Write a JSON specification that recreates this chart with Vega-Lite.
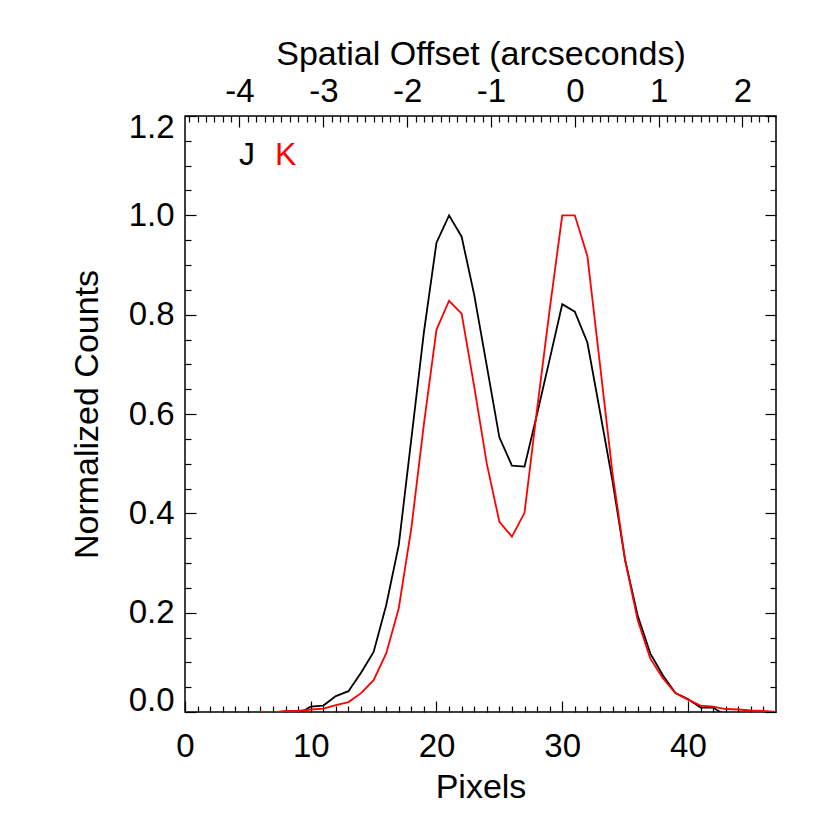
{
  "$schema": "https://vega.github.io/schema/vega-lite/v6.json",
  "width": 591,
  "height": 596,
  "autosize": {"type": "none"},
  "padding": {"left": 185, "top": 116, "right": 54, "bottom": 118},
  "background": "white",
  "config": {
    "view": {"stroke": "black", "strokeWidth": 1.5},
    "axis": {
      "domain": false,
      "grid": false,
      "tickColor": "black",
      "tickWidth": 1.2,
      "labelFont": "Liberation Sans",
      "labelFontSize": 33,
      "labelColor": "black",
      "titleFont": "Liberation Sans",
      "titleFontSize": 34,
      "titleFontWeight": "normal",
      "titleColor": "black"
    }
  },
  "datasets": {
    "profiles": [
      {"pixel": 9, "band": "J", "value": -0.004},
      {"pixel": 10, "band": "J", "value": 0.011},
      {"pixel": 11, "band": "J", "value": 0.013},
      {"pixel": 12, "band": "J", "value": 0.032},
      {"pixel": 13, "band": "J", "value": 0.042},
      {"pixel": 14, "band": "J", "value": 0.079},
      {"pixel": 15, "band": "J", "value": 0.121},
      {"pixel": 16, "band": "J", "value": 0.215},
      {"pixel": 17, "band": "J", "value": 0.336},
      {"pixel": 18, "band": "J", "value": 0.55},
      {"pixel": 19, "band": "J", "value": 0.765},
      {"pixel": 20, "band": "J", "value": 0.945},
      {"pixel": 21, "band": "J", "value": 1.0},
      {"pixel": 22, "band": "J", "value": 0.957},
      {"pixel": 23, "band": "J", "value": 0.84},
      {"pixel": 24, "band": "J", "value": 0.697},
      {"pixel": 25, "band": "J", "value": 0.553},
      {"pixel": 26, "band": "J", "value": 0.496},
      {"pixel": 27, "band": "J", "value": 0.494},
      {"pixel": 28, "band": "J", "value": 0.6},
      {"pixel": 29, "band": "J", "value": 0.71},
      {"pixel": 30, "band": "J", "value": 0.821},
      {"pixel": 31, "band": "J", "value": 0.806},
      {"pixel": 32, "band": "J", "value": 0.744},
      {"pixel": 33, "band": "J", "value": 0.605},
      {"pixel": 34, "band": "J", "value": 0.465},
      {"pixel": 35, "band": "J", "value": 0.306},
      {"pixel": 36, "band": "J", "value": 0.194},
      {"pixel": 37, "band": "J", "value": 0.118},
      {"pixel": 38, "band": "J", "value": 0.074},
      {"pixel": 39, "band": "J", "value": 0.038},
      {"pixel": 40, "band": "J", "value": 0.026},
      {"pixel": 41, "band": "J", "value": 0.009},
      {"pixel": 42, "band": "J", "value": 0.009},
      {"pixel": 43, "band": "J", "value": -0.007},
      {"pixel": 5, "band": "K", "value": -0.02},
      {"pixel": 6, "band": "K", "value": 0.0005},
      {"pixel": 7, "band": "K", "value": -0.001},
      {"pixel": 8, "band": "K", "value": 0.002},
      {"pixel": 9, "band": "K", "value": 0.002},
      {"pixel": 10, "band": "K", "value": 0.005},
      {"pixel": 11, "band": "K", "value": 0.007},
      {"pixel": 12, "band": "K", "value": 0.014},
      {"pixel": 13, "band": "K", "value": 0.02},
      {"pixel": 14, "band": "K", "value": 0.038},
      {"pixel": 15, "band": "K", "value": 0.064},
      {"pixel": 16, "band": "K", "value": 0.118},
      {"pixel": 17, "band": "K", "value": 0.209},
      {"pixel": 18, "band": "K", "value": 0.37},
      {"pixel": 19, "band": "K", "value": 0.58},
      {"pixel": 20, "band": "K", "value": 0.77},
      {"pixel": 21, "band": "K", "value": 0.828},
      {"pixel": 22, "band": "K", "value": 0.802},
      {"pixel": 23, "band": "K", "value": 0.655},
      {"pixel": 24, "band": "K", "value": 0.5},
      {"pixel": 25, "band": "K", "value": 0.383},
      {"pixel": 26, "band": "K", "value": 0.353},
      {"pixel": 27, "band": "K", "value": 0.401},
      {"pixel": 28, "band": "K", "value": 0.61},
      {"pixel": 29, "band": "K", "value": 0.81},
      {"pixel": 30, "band": "K", "value": 1.0},
      {"pixel": 31, "band": "K", "value": 1.0},
      {"pixel": 32, "band": "K", "value": 0.918},
      {"pixel": 33, "band": "K", "value": 0.7},
      {"pixel": 34, "band": "K", "value": 0.48},
      {"pixel": 35, "band": "K", "value": 0.306},
      {"pixel": 36, "band": "K", "value": 0.185},
      {"pixel": 37, "band": "K", "value": 0.108},
      {"pixel": 38, "band": "K", "value": 0.068},
      {"pixel": 39, "band": "K", "value": 0.038},
      {"pixel": 40, "band": "K", "value": 0.025},
      {"pixel": 41, "band": "K", "value": 0.013},
      {"pixel": 42, "band": "K", "value": 0.011},
      {"pixel": 43, "band": "K", "value": 0.006},
      {"pixel": 44, "band": "K", "value": 0.005},
      {"pixel": 45, "band": "K", "value": 0.003},
      {"pixel": 46, "band": "K", "value": 0.002},
      {"pixel": 47, "band": "K", "value": 0.0}
    ],
    "tags": [
      {"band": "J", "pixel": 4.93, "value": 1.122},
      {"band": "K", "pixel": 8.0, "value": 1.122}
    ],
    "arc": [
      {"arcsec": 0, "value": 0}
    ]
  },
  "layer": [
    {
      "data": {"name": "profiles"},
      "mark": {"type": "line", "strokeWidth": 1.8, "clip": true},
      "encoding": {
        "x": {"field": "pixel", "type": "quantitative",
              "scale": {"domain": [0, 47], "nice": false, "zero": false},
              "axis": {"orient": "bottom", "values": [0, 10, 20, 30, 40], "ticks": false, "labelPadding": 18, "labelFlush": false, "title": "Pixels", "titlePadding": 7, "labelExpr": "'' + datum.value"}},
        "y": {"field": "value", "type": "quantitative",
              "scale": {"domain": [0, 1.2], "nice": false, "zero": false},
              "axis": {"orient": "left", "values": [0, 0.2, 0.4, 0.6, 0.8, 1.0, 1.2], "ticks": false, "labelPadding": 11, "format": ".1f", "labelFlush": true, "labelFlushOffset": 5, "title": "Normalized Counts", "titlePadding": 24}},
        "color": {"field": "band", "type": "nominal",
                  "scale": {"domain": ["J", "K"], "range": ["#000000", "#ff0000"]}, "legend": null},
        "detail": {"field": "band"}
      }
    },
    {
      "data": {"name": "profiles"},
      "mark": {"type": "point", "opacity": 0},
      "encoding": {
        "x": {"field": "pixel", "type": "quantitative",
              "scale": {"domain": [0, 47], "nice": false, "zero": false},
              "axis": {"orient": "bottom", "values": [0, 10, 20, 30, 40], "labels": false, "tickSize": -11, "title": null}},
        "y": {"field": "value", "type": "quantitative",
              "scale": {"domain": [0, 1.2], "nice": false, "zero": false},
              "axis": {"orient": "left", "values": [0, 0.2, 0.4, 0.6, 0.8, 1.0, 1.2], "labels": false, "tickSize": -11, "title": null}}
      }
    },
    {
      "data": {"name": "profiles"},
      "mark": {"type": "point", "opacity": 0},
      "encoding": {
        "x": {"field": "pixel", "type": "quantitative",
              "scale": {"domain": [0, 47], "nice": false, "zero": false},
              "axis": {"orient": "bottom", "values": [1,2,3,4,5,6,7,8,9,11,12,13,14,15,16,17,18,19,21,22,23,24,25,26,27,28,29,31,32,33,34,35,36,37,38,39,41,42,43,44,45,46], "labels": false, "tickSize": -6, "title": null}},
        "y": {"field": "value", "type": "quantitative",
              "scale": {"domain": [0, 1.2], "nice": false, "zero": false},
              "axis": {"orient": "left", "values": [0.05,0.1,0.15,0.25,0.3,0.35,0.45,0.5,0.55,0.65,0.7,0.75,0.85,0.9,0.95,1.05,1.1,1.15], "labels": false, "tickSize": -6, "title": null}}
      }
    },
    {
      "data": {"name": "arc"},
      "mark": {"type": "point", "opacity": 0},
      "encoding": {
        "x": {"field": "arcsec", "type": "quantitative",
              "scale": {"domain": [-4.65, 2.4], "nice": false, "zero": false},
              "axis": {"orient": "top", "values": [-4, -3, -2, -1, 0, 1, 2], "ticks": false, "labelPadding": 8, "labelFlush": false, "labelExpr": "'' + datum.value", "title": "Spatial Offset (arcseconds)", "titlePadding": 4}},
        "y": {"field": "value", "type": "quantitative",
              "scale": {"domain": [0, 1.2], "nice": false, "zero": false},
              "axis": {"orient": "right", "values": [0, 0.2, 0.4, 0.6, 0.8, 1.0, 1.2], "labels": false, "tickSize": -11, "title": null}}
      }
    },
    {
      "data": {"name": "arc"},
      "mark": {"type": "point", "opacity": 0},
      "encoding": {
        "x": {"field": "arcsec", "type": "quantitative",
              "scale": {"domain": [-4.65, 2.4], "nice": false, "zero": false},
              "axis": {"orient": "top", "values": [-4, -3, -2, -1, 0, 1, 2], "labels": false, "tickSize": -11, "title": null}},
        "y": {"field": "value", "type": "quantitative",
              "scale": {"domain": [0, 1.2], "nice": false, "zero": false},
              "axis": {"orient": "right", "values": [0.05,0.1,0.15,0.25,0.3,0.35,0.45,0.5,0.55,0.65,0.7,0.75,0.85,0.9,0.95,1.05,1.1,1.15], "labels": false, "tickSize": -6, "title": null}}
      }
    },
    {
      "data": {"name": "arc"},
      "mark": {"type": "point", "opacity": 0},
      "encoding": {
        "x": {"field": "arcsec", "type": "quantitative",
              "scale": {"domain": [-4.65, 2.4], "nice": false, "zero": false},
              "axis": {"orient": "top", "values": [-4.6,-4.5,-4.4,-4.3,-4.2,-4.1,-3.9,-3.8,-3.7,-3.6,-3.5,-3.4,-3.3,-3.2,-3.1,-2.9,-2.8,-2.7,-2.6,-2.5,-2.4,-2.3,-2.2,-2.1,-1.9,-1.8,-1.7,-1.6,-1.5,-1.4,-1.3,-1.2,-1.1,-0.9,-0.8,-0.7,-0.6,-0.5,-0.4,-0.3,-0.2,-0.1,0.1,0.2,0.3,0.4,0.5,0.6,0.7,0.8,0.9,1.1,1.2,1.3,1.4,1.5,1.6,1.7,1.8,1.9,2.1,2.2,2.3], "labels": false, "tickSize": -6, "title": null}},
        "y": {"field": "value", "type": "quantitative",
              "scale": {"domain": [0, 1.2], "nice": false, "zero": false},
              "axis": null}
      }
    },
    {
      "data": {"name": "tags"},
      "mark": {"type": "text", "font": "Liberation Sans", "fontSize": 32, "align": "center", "baseline": "middle"},
      "encoding": {
        "x": {"field": "pixel", "type": "quantitative",
              "scale": {"domain": [0, 47], "nice": false, "zero": false}, "axis": null},
        "y": {"field": "value", "type": "quantitative",
              "scale": {"domain": [0, 1.2], "nice": false, "zero": false}, "axis": null},
        "text": {"field": "band"},
        "color": {"field": "band", "type": "nominal",
                  "scale": {"domain": ["J", "K"], "range": ["#000000", "#ff0000"]}, "legend": null}
      }
    }
  ],
  "resolve": {
    "scale": {"x": "independent", "y": "independent", "color": "independent"},
    "axis": {"x": "independent", "y": "independent"}
  }
}
